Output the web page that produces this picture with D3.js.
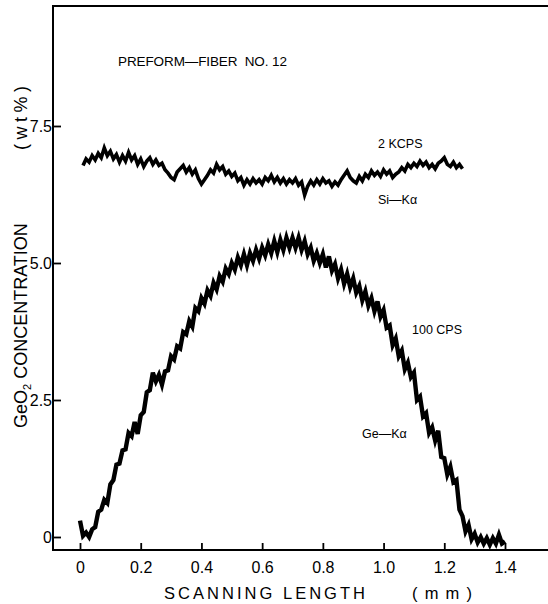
<!DOCTYPE html>
<html>
<head>
<meta charset="utf-8">
<script src="https://cdn.jsdelivr.net/npm/d3@7"></script>
<style>
  body { margin: 0; background: #fff; }
  svg { display: block; font-family: "Liberation Sans", Arial, sans-serif; }
</style>
</head>
<body>
<svg id="chart" width="548" height="604"></svg>
<script>
// scanning length (mm) and readings, one every 0.01 mm
const siStart = 0.01
const siValues = [
  6.78, 6.90, 6.84, 6.96, 6.88, 7.00, 6.92, 7.10, 6.96, 7.04,
  6.90, 6.98, 6.84, 6.96, 6.86, 7.02, 6.88, 6.96, 6.80, 6.90,
  6.76, 6.86, 6.92, 6.80, 6.88, 6.78, 6.82, 6.70, 6.64, 6.56,
  6.52, 6.66, 6.72, 6.78, 6.66, 6.74, 6.62, 6.70, 6.54, 6.44,
  6.52, 6.60, 6.70, 6.64, 6.80, 6.70, 6.76, 6.62, 6.68, 6.58,
  6.64, 6.50, 6.56, 6.42, 6.52, 6.44, 6.54, 6.46, 6.52, 6.44,
  6.56, 6.50, 6.60, 6.48, 6.56, 6.46, 6.54, 6.44, 6.52, 6.46,
  6.54, 6.42, 6.48, 6.24, 6.40, 6.50, 6.42, 6.52, 6.44, 6.54,
  6.46, 6.50, 6.40, 6.48, 6.42, 6.52, 6.60, 6.68, 6.56, 6.50,
  6.46, 6.58, 6.50, 6.62, 6.56, 6.68, 6.60, 6.66, 6.58, 6.70,
  6.62, 6.68, 6.56, 6.62, 6.66, 6.74, 6.68, 6.80, 6.74, 6.82,
  6.76, 6.86, 6.78, 6.84, 6.74, 6.80, 6.72, 6.82, 6.86, 6.92,
  6.80, 6.76, 6.84, 6.74, 6.80, 6.72
]

const geStart = 0.00
const geValues = [
  0.30, 0.02, 0.08, 0.00, 0.14, 0.18, 0.46, 0.50, 0.68, 0.62,
  0.96, 1.04, 1.32, 1.34, 1.58, 1.60, 1.90, 1.84, 2.10, 1.88,
  2.22, 2.28, 2.64, 2.68, 3.00, 2.84, 2.96, 2.78, 3.02, 3.04,
  3.30, 3.24, 3.48, 3.44, 3.74, 3.70, 3.94, 3.84, 4.18, 4.12,
  4.36, 4.26, 4.50, 4.40, 4.64, 4.52, 4.76, 4.66, 4.90, 4.80,
  5.00, 4.88, 5.10, 4.96, 5.16, 4.96, 5.18, 5.04, 5.24, 5.08,
  5.28, 5.14, 5.34, 5.18, 5.40, 5.20, 5.42, 5.24, 5.46, 5.28,
  5.46, 5.28, 5.46, 5.24, 5.40, 5.16, 5.28, 5.04, 5.18, 5.00,
  5.16, 4.92, 5.12, 4.86, 4.98, 4.72, 4.88, 4.62, 4.80, 4.56,
  4.72, 4.46, 4.58, 4.32, 4.48, 4.22, 4.36, 4.12, 4.30, 4.02,
  4.14, 3.82, 3.86, 3.50, 3.62, 3.30, 3.40, 3.06, 3.18, 2.92,
  3.00, 2.50, 2.56, 2.20, 2.26, 1.90, 2.00, 1.76, 1.94, 1.46,
  1.44, 1.14, 1.28, 1.00, 1.04, 0.50, 0.38, 0.10, 0.22, -0.04,
  0.06, -0.10, 0.00, -0.12, -0.02, -0.14, -0.02, -0.12, 0.04, -0.12,
  -0.08
]

const xTicks = [0, 0.2, 0.4, 0.6, 0.8, 1.0, 1.2, 1.4]
const xTickLabels = ["0", "0.2", "0.4", "0.6", "0.8", "1.0", "1.2", "1.4"]
const yTicks = [0, 2.5, 5.0, 7.5]
const yTickLabels = ["0", "2.5", "5.0", "7.5"]

const svg = d3.select("#chart")

const xScale = d3.scaleLinear().domain([0, 1.4]).range([80, 505])
const yScale = d3.scaleLinear().domain([0, 7.5]).range([537, 126])

const frameLeft = 53, frameTop = 6, frameBottom = 550, frameRight = 548

// frame: left, top, bottom (right edge cut off)
svg.append("path")
  .attr("d", `M${frameRight},${frameTop}H${frameLeft}V${frameBottom}H${frameRight}`)
  .attr("fill", "none")
  .attr("stroke", "#000")
  .attr("stroke-width", 2)

// x axis ticks point inward
const xAxis = d3.axisBottom(xScale)
  .tickValues(xTicks)
  .tickSize(-7)
  .tickFormat((d, i) => xTickLabels[i])
svg.append("g")
  .attr("transform", `translate(0,${frameBottom})`)
  .call(xAxis)
  .call(g => g.select(".domain").remove())
  .call(g => g.selectAll(".tick line").attr("stroke-width", 1.8))
  .call(g => g.selectAll(".tick text")
    .attr("y", 23)
    .attr("dy", null)
    .attr("font-size", 16)
    .attr("fill", "#000"))

const yAxis = d3.axisLeft(yScale)
  .tickValues(yTicks)
  .tickSize(-8)
  .tickFormat((d, i) => yTickLabels[i])
svg.append("g")
  .attr("transform", `translate(${frameLeft},0)`)
  .call(yAxis)
  .call(g => g.select(".domain").remove())
  .call(g => g.selectAll(".tick line").attr("stroke-width", 1.8))
  .call(g => g.selectAll(".tick text")
    .attr("x", -1)
    .attr("dy", "0.36em")
    .attr("font-size", 16)
    .attr("fill", "#000"))

// curves, drawn thick so the noise reads as a band
const line = d3.line()
  .x(d => xScale(d[0]))
  .y(d => yScale(d[1]))

const siData = siValues.map((v, i) => [siStart + i * 0.01, v])
const geData = geValues.map((v, i) => [geStart + i * 0.01, v])

svg.append("path")
  .datum(siData)
  .attr("d", line)
  .attr("fill", "none")
  .attr("stroke", "#000")
  .attr("stroke-width", 3.6)
  .attr("stroke-linejoin", "miter")

svg.append("path")
  .datum(geData)
  .attr("d", line)
  .attr("fill", "none")
  .attr("stroke", "#000")
  .attr("stroke-width", 4.4)
  .attr("stroke-linejoin", "miter")

// labels
const labels = [
  { text: "PREFORM\u2014FIBER  NO. 12", x: 118, y: 66, size: 13.5, len: 169 },
  { text: "2 KCPS", x: 378, y: 148, size: 12.5 },
  { text: "Si\u2014K\u03b1", x: 378, y: 204, size: 12.5 },
  { text: "100 CPS", x: 412, y: 334, size: 12.5 },
  { text: "Ge\u2014K\u03b1", x: 362, y: 438, size: 12.5 }
]
svg.selectAll(".lbl")
  .data(labels)
  .join("text")
    .attr("class", "lbl")
    .attr("x", d => d.x)
    .attr("y", d => d.y)
    .attr("font-size", d => d.size)
    .attr("textLength", d => d.len || null)
    .attr("lengthAdjust", "spacing")
    .style("white-space", "pre")
    .text(d => d.text)

// axis titles
svg.append("text")
  .attr("x", 164)
  .attr("y", 599)
  .attr("font-size", 16.5)
  .attr("textLength", 201)
  .attr("lengthAdjust", "spacing")
  .text("SCANNING LENGTH")

svg.append("text")
  .attr("x", 412)
  .attr("y", 599)
  .attr("font-size", 16.5)
  .attr("textLength", 60)
  .attr("lengthAdjust", "spacing")
  .text("(mm)")

const yTitle = svg.append("g")
  .attr("transform", "translate(27,428) rotate(-90)")

const t1 = yTitle.append("text")
  .attr("x", 0)
  .attr("y", 0)
  .attr("font-size", 18)
t1.append("tspan").text("GeO")
t1.append("tspan").attr("font-size", 11).attr("dy", 4).text("2")
t1.append("tspan").attr("dy", -4).text(" CONCENTRATION")

yTitle.append("text")
  .attr("x", 278)
  .attr("y", 0)
  .attr("font-size", 18)
  .attr("textLength", 64)
  .attr("lengthAdjust", "spacing")
  .text("(wt%)")
</script>
</body>
</html>
